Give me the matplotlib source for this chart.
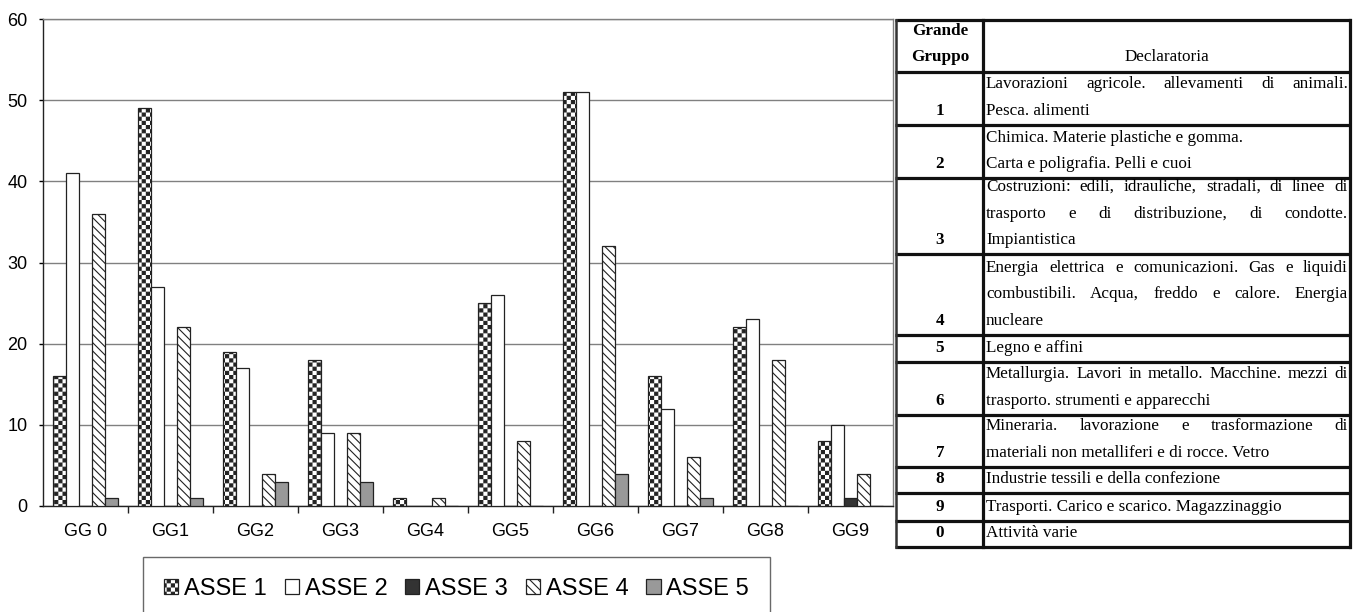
import numpy as np
import matplotlib
matplotlib.use("Agg")
import matplotlib.pyplot as plt
import matplotlib.hatch as mhatch
from matplotlib.path import Path

# ---------------- data ----------------
categories = ["GG 0", "GG1", "GG2", "GG3", "GG4", "GG5", "GG6", "GG7", "GG8", "GG9"]
series_names = ["ASSE 1", "ASSE 2", "ASSE 3", "ASSE 4", "ASSE 5"]
asse1 = [16, 49, 19, 18, 1, 25, 51, 16, 22, 8]
asse2 = [41, 27, 17, 9, 0, 26, 51, 12, 23, 10]
asse3 = [0, 0, 0, 0, 0, 0, 0, 0, 0, 1]
asse4 = [36, 22, 4, 9, 1, 8, 32, 6, 18, 4]
asse5 = [1, 1, 3, 3, 0, 0, 4, 1, 0, 0]
yticks = [0, 10, 20, 30, 40, 50, 60]

table_header = ["Grande\nGruppo", "Declaratoria"]
table_groups = ["1", "2", "3", "4", "5", "6", "7", "8", "9", "0"]
table_lines = [
    ["Lavorazioni agricole. allevamenti di animali.", "Pesca. alimenti"],
    ["Chimica. Materie plastiche e gomma.", "Carta e poligrafia. Pelli e cuoi"],
    ["Costruzioni: edili, idrauliche, stradali, di linee di",
     "trasporto e di distribuzione, di condotte.", "Impiantistica"],
    ["Energia elettrica e comunicazioni. Gas e liquidi",
     "combustibili. Acqua, freddo e calore. Energia", "nucleare"],
    ["Legno e affini"],
    ["Metallurgia. Lavori in metallo. Macchine. mezzi di",
     "trasporto. strumenti e apparecchi"],
    ["Mineraria. lavorazione e trasformazione di",
     "materiali non metalliferi e di rocce. Vetro"],
    ["Industrie tessili e della confezione"],
    ["Trasporti. Carico e scarico. Magazzinaggio"],
    ["Attività varie"],
]
table_justify = [
    [True, False], [False, False], [True, True, False], [True, True, False],
    [False], [True, False], [True, False], [False], [False], [False],
]


# ---------------- checkerboard hatch (replaces '*') ----------------
class CheckerHatch(mhatch.HatchPatternBase):
    def __init__(self, hatch, density):
        self.n = hatch.count("*") * density * 4
        self.num_vertices = (self.n * self.n // 2) * 5 if self.n else 0

    def set_vertices_and_codes(self, vertices, codes):
        n = self.n
        s = 1.0 / n
        m = 0.0055
        k = 0
        for i in range(n):
            for j in range(n):
                if (i + j) % 2 == 0:
                    x0, x1 = i * s + m, (i + 1) * s - m
                    y0, y1 = j * s + m, (j + 1) * s - m
                    vertices[k:k + 5] = [(x0, y0), (x1, y0), (x1, y1), (x0, y1), (x0, y0)]
                    codes[k:k + 5] = [Path.MOVETO, Path.LINETO, Path.LINETO,
                                      Path.LINETO, Path.CLOSEPOLY]
                    k += 5


mhatch._hatch_types = [CheckerHatch if t is mhatch.Stars else t
                       for t in mhatch._hatch_types]

plt.rcParams["font.family"] = ["Liberation Sans", "DejaVu Sans"]
plt.rcParams["hatch.linewidth"] = 0.8

W, H = 1362, 612
fig = plt.figure(figsize=(W / 100, H / 100), dpi=100)

# ---------------- bar chart ----------------
ax = fig.add_axes([43 / W, (H - 506) / H, 850 / W, 487 / H])
series = [asse1, asse2, asse3, asse4, asse5]
styles = [
    dict(facecolor="white", hatch="*"),
    dict(facecolor="white", hatch=None),
    dict(facecolor="#333333", hatch=None),
    dict(facecolor="white", hatch="\\\\\\\\"),
    dict(facecolor="#999999", hatch=None),
]
x = np.arange(len(categories))
bw = 13 / 85
handles = []
for k, (vals, st) in enumerate(zip(series, styles)):
    b = ax.bar(x + (k - 2) * bw, vals, width=bw, edgecolor="#222222",
               linewidth=0.9, zorder=3, label=series_names[k], **st)
    handles.append(b)

ax.set_xlim(-0.5, len(categories) - 0.5)
ax.set_ylim(0, 60)
ax.set_yticks(yticks)
ax.yaxis.grid(True, color="#808080", linewidth=1.0, zorder=0)
ax.set_axisbelow(True)
ax.set_xticks(x)
ax.set_xticklabels(categories, fontsize=13)
ax.set_xticks(np.arange(len(categories) - 1) + 0.5, minor=True)
ax.tick_params(axis="x", which="major", length=0, pad=12)
ax.tick_params(axis="x", which="minor", length=5, width=1, direction="out", color="#222222")
ax.tick_params(axis="y", length=3, width=1, direction="out", pad=8, labelsize=13)
for side in ["left", "bottom"]:
    ax.spines[side].set_color("#222222")
    ax.spines[side].set_linewidth(1.0)
for side in ["top", "right"]:
    ax.spines[side].set_color("#808080")
    ax.spines[side].set_linewidth(1.0)

leg = ax.legend(handles=handles, labels=series_names, ncol=5, loc="upper left",
                bbox_to_anchor=(143 / W, 1 - 557 / H), bbox_transform=fig.transFigure,
                borderaxespad=0, fontsize=17, handlelength=0.6, handleheight=0.6,
                handletextpad=0.25, columnspacing=0.75, borderpad=0.9,
                fancybox=False, frameon=True, edgecolor="#444444")
leg.get_frame().set_linewidth(1.0)

# ---------------- table (pixel-coordinate overlay) ----------------
ov = fig.add_axes([0, 0, 1, 1])
ov.set_xlim(0, W)
ov.set_ylim(H, 0)
ov.axis("off")

row_bounds = [20, 72, 125, 178, 254, 335, 362, 415, 467, 493, 521, 547]
x_left, x_sep, x_right = 896, 983, 1350
tx0, tx1 = 986, 1348
serif = ["Liberation Serif", "DejaVu Serif"]
fs = 12.3

for yb in row_bounds:
    ov.plot([x_left - 1, x_right + 1], [yb, yb], color="#111111", lw=2.3,
            solid_capstyle="butt")
ov.plot([x_left, x_left], [row_bounds[0], row_bounds[-1]], color="#333333", lw=1.8)
ov.plot([x_sep, x_sep], [row_bounds[0], row_bounds[-1]], color="#111111", lw=2.3)
ov.plot([x_right, x_right], [row_bounds[0], row_bounds[-1]], color="#111111", lw=2.3)

hl = table_header[0].split("\n")
ov.text(940, 31, hl[0], family=serif, fontsize=fs, fontweight="bold",
        ha="center", va="center")
ov.text(940, 57, hl[1], family=serif, fontsize=fs, fontweight="bold",
        ha="center", va="center")
ov.text((x_sep + x_right) / 2, 57, table_header[1], family=serif, fontsize=fs,
        ha="center", va="center")

renderer = fig.canvas.get_renderer()
for i, (grp, lines, just) in enumerate(zip(table_groups, table_lines, table_justify)):
    bottom = row_bounds[i + 2]
    ylast = bottom - 14
    ov.text(940, ylast, grp, family=serif, fontsize=fs, fontweight="bold",
            ha="center", va="center")
    nl = len(lines)
    for j, (line, jf) in enumerate(zip(lines, just)):
        yy = ylast - (nl - 1 - j) * 26.5
        if not jf:
            ov.text(tx0, yy, line, family=serif, fontsize=fs, ha="left", va="center")
            continue
        words = line.split()
        texts = [ov.text(tx0, yy, w, family=serif, fontsize=fs, ha="left", va="center")
                 for w in words]
        widths = [t.get_window_extent(renderer).width for t in texts]
        gap = (tx1 - tx0 - sum(widths)) / (len(words) - 1)
        xpos = tx0
        for t, wdt in zip(texts, widths):
            t.set_x(xpos)
            xpos += wdt + gap

fig.savefig("out.png", dpi=100)
